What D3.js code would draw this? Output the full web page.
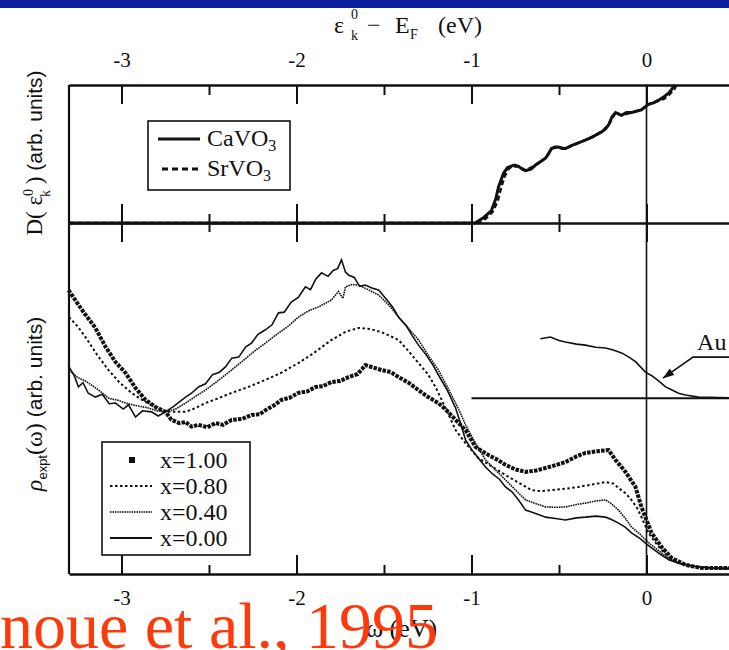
<!DOCTYPE html>
<html>
<head>
<meta charset="utf-8">
<script src="https://cdn.jsdelivr.net/npm/d3@7"></script>
<style>
  body { margin: 0; background: #fff; }
  svg { display: block; }
</style>
</head>
<body>
<svg id="canvas" width="729" height="650"></svg>
<script>
// tick values (eV)
const ticksMajor = [-3, -2, -1, 0];
const ticksMinor = [-2.5, -1.5, -0.5];

// upper panel: D(eps_k^0), [eps, D]
const caVO3 = [[-3.3,0],[-0.98,0],[-0.93,0.04],[-0.886,0.09],[-0.86,0.18],[-0.846,0.26],[-0.817,0.36],[-0.795,0.40],[-0.777,0.41],[-0.755,0.42],[-0.731,0.41],[-0.71,0.39],[-0.691,0.38],[-0.66,0.39],[-0.634,0.42],[-0.6,0.45],[-0.577,0.47],[-0.56,0.50],[-0.543,0.54],[-0.523,0.55],[-0.503,0.55],[-0.483,0.54],[-0.463,0.54],[-0.43,0.56],[-0.389,0.58],[-0.35,0.60],[-0.314,0.62],[-0.285,0.64],[-0.257,0.66],[-0.235,0.68],[-0.217,0.71],[-0.197,0.77],[-0.177,0.80],[-0.16,0.79],[-0.143,0.78],[-0.115,0.80],[-0.086,0.80],[-0.06,0.81],[-0.029,0.82],[-0.01,0.84],[0.011,0.86],[0.04,0.87],[0.069,0.89],[0.1,0.915],[0.126,0.94],[0.145,0.97],[0.16,1.0]];
const srVO3 = [[-3.3,0],[-0.96,0],[-0.92,0.03],[-0.88,0.08],[-0.85,0.16],[-0.83,0.26],[-0.81,0.34],[-0.79,0.39],[-0.77,0.41],[-0.731,0.41],[-0.691,0.38],[-0.634,0.42],[-0.577,0.47],[-0.543,0.54],[-0.503,0.55],[-0.463,0.54],[-0.389,0.58],[-0.314,0.62],[-0.257,0.66],[-0.217,0.71],[-0.177,0.80],[-0.143,0.78],[-0.086,0.80],[-0.029,0.82],[0.011,0.86],[0.069,0.885],[0.1,0.90],[0.13,0.93],[0.16,0.97],[0.17,1.0]];

// lower panel: rho_expt(omega), [omega, rho]
const x000 = [[-3.30,59.0],[-3.27,56.5],[-3.246,53.3],[-3.22,54.5],[-3.19,51.5],[-3.149,50.4],[-3.11,51.2],[-3.07,48.5],[-3.034,48.7],[-2.99,47.0],[-2.96,48.2],[-2.92,44.7],[-2.88,46.5],[-2.829,46.2],[-2.79,45.0],[-2.749,46.2],[-2.70,47.8],[-2.634,50.4],[-2.60,51.5],[-2.56,53.3],[-2.52,54.2],[-2.48,56.8],[-2.44,57.5],[-2.406,59.0],[-2.37,61.5],[-2.33,61.8],[-2.29,64.7],[-2.257,65.8],[-2.22,68.3],[-2.18,69.5],[-2.14,71.0],[-2.103,74.4],[-2.07,74.6],[-2.03,77.5],[-1.99,78.8],[-1.949,81.8],[-1.92,81.0],[-1.89,84.0],[-1.857,85.8],[-1.82,84.8],[-1.79,86.5],[-1.765,87.0],[-1.743,89.5],[-1.72,86.0],[-1.703,85.2],[-1.67,84.5],[-1.64,82.0],[-1.606,82.3],[-1.57,81.5],[-1.531,80.9],[-1.49,78.5],[-1.45,76.0],[-1.417,73.2],[-1.37,70.5],[-1.34,68.0],[-1.303,65.2],[-1.26,62.5],[-1.22,59.5],[-1.189,56.7],[-1.14,52.5],[-1.091,47.3],[-1.06,42.5],[-1.034,38.2],[-1.0,35.5],[-0.96,33.0],[-0.92,30.5],[-0.88,28.5],[-0.84,27.0],[-0.806,24.8],[-0.77,23.5],[-0.73,21.0],[-0.691,18.2],[-0.65,17.5],[-0.61,16.8],[-0.577,16.2],[-0.52,15.8],[-0.463,15.4],[-0.40,16.0],[-0.349,16.2],[-0.29,16.5],[-0.234,16.2],[-0.20,15.5],[-0.16,14.5],[-0.12,13.3],[-0.086,11.7],[-0.04,10.2],[-0.006,8.8],[0.04,7.0],[0.086,5.4],[0.13,4.0],[0.183,3.1],[0.27,2.2],[0.37,1.7],[0.5,1.6]];
const x040 = [[-3.30,58.1],[-3.25,56.0],[-3.20,54.8],[-3.131,52.4],[-3.07,50.0],[-3.02,49.5],[-2.977,48.7],[-2.92,48.0],[-2.846,47.3],[-2.80,46.5],[-2.749,46.2],[-2.69,47.0],[-2.634,48.7],[-2.58,50.5],[-2.52,52.4],[-2.45,55.0],[-2.371,58.1],[-2.30,61.0],[-2.24,63.5],[-2.177,65.8],[-2.12,68.0],[-2.05,70.5],[-1.989,73.2],[-1.93,75.0],[-1.874,76.1],[-1.84,77.0],[-1.80,78.1],[-1.76,80.5],[-1.735,78.5],[-1.72,81.8],[-1.68,82.5],[-1.646,82.3],[-1.59,81.0],[-1.531,79.5],[-1.47,76.5],[-1.417,73.2],[-1.36,70.0],[-1.303,66.7],[-1.25,62.5],[-1.189,58.1],[-1.14,53.5],[-1.091,48.7],[-1.06,45.5],[-1.034,42.5],[-0.98,37.5],[-0.92,32.5],[-0.86,29.5],[-0.806,26.8],[-0.75,24.0],[-0.691,21.1],[-0.63,20.0],[-0.577,19.1],[-0.52,19.0],[-0.463,19.1],[-0.40,19.8],[-0.349,20.2],[-0.29,20.8],[-0.234,21.1],[-0.20,20.0],[-0.16,18.2],[-0.12,15.8],[-0.086,13.4],[-0.04,11.5],[-0.006,9.7],[0.04,7.8],[0.086,6.0],[0.13,4.3],[0.183,3.1],[0.27,2.2],[0.371,1.7],[0.5,1.6]];
const x080 = [[-3.30,73.2],[-3.25,70.5],[-3.206,67.5],[-3.14,62.5],[-3.074,58.1],[-3.01,54.5],[-2.943,51.6],[-2.88,49.5],[-2.829,48.1],[-2.749,46.2],[-2.634,46.2],[-2.58,47.2],[-2.52,48.7],[-2.45,50.0],[-2.371,51.6],[-2.28,53.2],[-2.177,55.3],[-2.08,57.5],[-1.989,60.1],[-1.90,63.0],[-1.80,66.7],[-1.72,69.0],[-1.646,70.1],[-1.58,69.8],[-1.514,68.9],[-1.417,66.7],[-1.36,63.5],[-1.303,60.1],[-1.25,57.0],[-1.206,53.3],[-1.15,47.5],[-1.091,41.0],[-1.03,37.0],[-0.96,33.0],[-0.88,30.5],[-0.806,28.2],[-0.73,26.0],[-0.657,23.9],[-0.60,23.6],[-0.543,23.9],[-0.46,24.3],[-0.389,24.8],[-0.31,25.5],[-0.234,26.2],[-0.19,25.8],[-0.16,24.5],[-0.12,23.0],[-0.086,21.1],[-0.05,18.5],[-0.029,16.2],[0.011,11.7],[0.05,9.0],[0.086,6.8],[0.13,4.8],[0.183,3.1],[0.27,2.0],[0.371,1.7],[0.5,1.4]];
const x100 = [[-3.303,80.9],[-3.257,77.5],[-3.217,74.6],[-3.149,70.1],[-3.091,64.7],[-3.034,60.4],[-2.977,57.3],[-2.920,53.0],[-2.863,49.6],[-2.806,47.6],[-2.749,46.2],[-2.714,43.9],[-2.67,43.0],[-2.634,43.3],[-2.60,42.0],[-2.560,42.5],[-2.51,41.8],[-2.463,43.0],[-2.42,42.5],[-2.371,43.9],[-2.31,44.2],[-2.257,45.3],[-2.21,45.5],[-2.177,46.7],[-2.13,48.0],[-2.086,49.6],[-2.04,50.2],[-1.989,51.6],[-1.94,52.0],[-1.891,53.3],[-1.85,53.5],[-1.800,54.7],[-1.75,55.0],[-1.703,56.1],[-1.65,57.0],[-1.606,59.5],[-1.56,58.8],[-1.514,58.1],[-1.46,57.5],[-1.417,56.1],[-1.36,54.5],[-1.303,52.4],[-1.25,50.5],[-1.189,48.7],[-1.14,46.5],[-1.091,43.9],[-1.034,41.0],[-0.977,36.2],[-0.94,35.0],[-0.903,33.9],[-0.85,32.5],[-0.806,31.1],[-0.75,29.8],[-0.691,29.1],[-0.63,29.5],[-0.577,30.2],[-0.52,31.0],[-0.463,31.9],[-0.40,33.5],[-0.349,34.5],[-0.28,35.0],[-0.217,35.3],[-0.177,32.5],[-0.120,29.1],[-0.063,24.8],[-0.029,19.1],[0,15.4],[0.029,11.7],[0.086,7.7],[0.143,4.6],[0.223,2.6],[0.314,1.7],[0.5,1.7]];
const au = [[-0.606,67.0],[-0.549,67.5],[-0.50,66.5],[-0.463,66.1],[-0.40,65.5],[-0.349,65.2],[-0.29,64.6],[-0.234,64.4],[-0.19,63.8],[-0.143,63.0],[-0.1,61.8],[-0.063,60.5],[-0.006,57.5],[0.03,56.5],[0.069,55.0],[0.109,53.3],[0.143,52.5],[0.183,51.5],[0.223,51.0],[0.297,50.4],[0.5,50.2]];
const auBase = [[-1, 50.1], [0.5, 50.1]];

const legendTop = ["CaVO", "SrVO"];
const legendBottom = ["x=1.00", "x=0.80", "x=0.40", "x=0.00"];

const serif = '"Liberation Serif", "Times New Roman", serif';
const sans = '"Liberation Sans", Arial, sans-serif';
const ink = "#111";

const svg = d3.select("svg#canvas");

const x = d3.scaleLinear().domain([-3.3, 0.5]).range([69, 734]);
const yTop = d3.scaleLinear().domain([0, 1]).range([223, 85]);
const yBot = d3.scaleLinear().domain([0, 100]).range([574, 223]);

// small helper so every text gets its font set inline
const label = (sel, size, fam = serif) => sel.append("text")
    .style("font-family", fam).style("font-size", size + "px").style("fill", ink);

// blue banner strip
svg.append("rect").attr("x", 0).attr("y", 0).attr("width", 729).attr("height", 8).attr("fill", "#0b1f9e");

const isMajor = d => ticksMajor.includes(d);
const allTicks = ticksMajor.concat(ticksMinor);

// top axis
const gTop = svg.append("g")
    .attr("transform", `translate(0,${yTop(1)})`)
    .call(d3.axisTop(x).tickValues(allTicks).tickSizeOuter(0)
      .tickFormat(d => isMajor(d) ? String(d) : ""));
gTop.selectAll(".tick line").attr("y2", d => isMajor(d) ? 19 : 10);
gTop.selectAll(".tick text").attr("y", -18).attr("dy", "0");

// middle line shared by both panels
const gMid = svg.append("g")
    .attr("transform", `translate(0,${yTop(0)})`)
    .call(d3.axisBottom(x).tickValues(allTicks).tickSizeOuter(0).tickFormat(""));
gMid.selectAll(".tick line")
    .attr("y1", d => isMajor(d) ? -19 : -9)
    .attr("y2", d => isMajor(d) ? 19 : 9);

// bottom axis
const gBot = svg.append("g")
    .attr("transform", `translate(0,${yBot(0)})`)
    .call(d3.axisBottom(x).tickValues(allTicks).tickSizeOuter(0)
      .tickFormat(d => isMajor(d) ? String(d) : ""));
gBot.selectAll(".tick line").attr("y2", d => isMajor(d) ? -19 : -9);
gBot.selectAll(".tick text").attr("y", 31).attr("dy", "0");

svg.selectAll(".domain").attr("stroke", ink).attr("stroke-width", 2.5);
svg.selectAll(".tick line").attr("stroke", ink).attr("stroke-width", 2);
svg.selectAll(".tick text")
    .style("font-family", serif).style("font-size", "21px").style("fill", ink);

// left frame
svg.append("line")
    .attr("x1", x(-3.3)).attr("x2", x(-3.3))
    .attr("y1", yTop(1)).attr("y2", yBot(0))
    .attr("stroke", ink).attr("stroke-width", 2.2);

// E_F vertical line
svg.append("line")
    .attr("x1", x(0)).attr("x2", x(0))
    .attr("y1", yTop(1)).attr("y2", yBot(0))
    .attr("stroke", ink).attr("stroke-width", 1.6);

// upper panel curves
const lineTop = d3.line().x(d => x(d[0])).y(d => yTop(d[1]));
svg.append("path").datum(srVO3).attr("d", lineTop)
    .attr("fill", "none").attr("stroke", ink).attr("stroke-width", 2.5)
    .attr("stroke-dasharray", "5,3");
svg.append("path").datum(caVO3).attr("d", lineTop)
    .attr("fill", "none").attr("stroke", ink).attr("stroke-width", 3);

// lower panel curves
const lineBot = d3.line().x(d => x(d[0])).y(d => yBot(d[1]));
const styles = [
  {data: x000, w: 1.6, dash: null},
  {data: x040, w: 1.6, dash: "1.6,0.8"},
  {data: x080, w: 2, dash: "2.5,2.5"},
  {data: x100, w: 4, dash: "3.5,1.2"}
];
styles.forEach(s => {
  svg.append("path").datum(s.data).attr("d", lineBot)
      .attr("fill", "none").attr("stroke", ink)
      .attr("stroke-width", s.w)
      .attr("stroke-dasharray", s.dash);
});

// Au reference
svg.append("path").datum(auBase).attr("d", lineBot)
    .attr("fill", "none").attr("stroke", ink).attr("stroke-width", 2);
svg.append("path").datum(au).attr("d", lineBot)
    .attr("fill", "none").attr("stroke", ink).attr("stroke-width", 1.6);

// Au label and arrow
const auTip = [0.094, 55.8], auKnee = [0.266, 61.8], auEnd = [0.5, 61.8];
svg.append("path")
    .attr("d", d3.line()([[x(auEnd[0]), yBot(auEnd[1])], [x(auKnee[0]), yBot(auKnee[1])], [x(auTip[0]), yBot(auTip[1])]]))
    .attr("fill", "none").attr("stroke", ink).attr("stroke-width", 1.6);
{
  const tx = x(auTip[0]), ty = yBot(auTip[1]);
  const ang = Math.atan2(yBot(auKnee[1]) - ty, x(auKnee[0]) - tx);
  const L = 11, W = 4;
  const bx = tx + L * Math.cos(ang), by = ty + L * Math.sin(ang);
  svg.append("polygon")
      .attr("points", [[tx, ty], [bx - W * Math.sin(ang), by + W * Math.cos(ang)], [bx + W * Math.sin(ang), by - W * Math.cos(ang)]].join(" "))
      .attr("fill", ink);
}
label(svg, 24).attr("x", x(0.289)).attr("y", yBot(63.8)).text("Au");

// upper legend
const lgT = svg.append("g").attr("transform", "translate(148,121)");
lgT.append("rect").attr("width", 142).attr("height", 69)
    .attr("fill", "#fff").attr("stroke", ink).attr("stroke-width", 1.6);
legendTop.forEach((name, i) => {
  const yy = 18 + i * 30;
  lgT.append("line").attr("x1", i ? 14 : 10).attr("x2", 52).attr("y1", yy).attr("y2", yy)
      .attr("stroke", ink).attr("stroke-width", 3)
      .attr("stroke-dasharray", i ? "6,4" : null);
  const t = label(lgT, 24).attr("x", 59).attr("y", yy + 7);
  t.append("tspan").text(name);
  t.append("tspan").attr("dy", 5).style("font-size", "16px").text("3");
});

// lower legend
const lgB = svg.append("g").attr("transform", "translate(102,442)");
lgB.append("rect").attr("width", 148).attr("height", 113)
    .attr("fill", "#fff").attr("stroke", ink).attr("stroke-width", 1.6);
const lgStyles = [null, {w: 2, dash: "2.5,2.5"}, {w: 1.6, dash: "1.6,0.8"}, {w: 2, dash: null}];
legendBottom.forEach((name, i) => {
  const yy = 18 + i * 26;
  if (i === 0) {
    lgB.append("rect").attr("x", 27).attr("y", yy - 3).attr("width", 6).attr("height", 6).attr("fill", ink);
  } else {
    lgB.append("line").attr("x1", 8).attr("x2", 50).attr("y1", yy).attr("y2", yy)
        .attr("stroke", ink).attr("stroke-width", lgStyles[i].w)
        .attr("stroke-dasharray", lgStyles[i].dash);
  }
  label(lgB, 24).attr("x", 58).attr("y", yy + 8).text(name);
});

// top axis title
label(svg, 24).attr("x", 334).attr("y", 33).text("ε");
label(svg, 14).attr("x", 351).attr("y", 19).text("0");
label(svg, 14).attr("x", 351).attr("y", 40).text("k");
label(svg, 24).attr("x", 367).attr("y", 33).text("−");
label(svg, 24).attr("x", 395).attr("y", 33).text("E");
label(svg, 14).attr("x", 410).attr("y", 39).text("F");
label(svg, 24).attr("x", 438).attr("y", 33).text("(eV)");

// y labels
const yl1 = label(svg, 23).attr("transform", "translate(42,153) rotate(-90)")
    .attr("text-anchor", "middle");
yl1.append("tspan").text("D( ε");
yl1.append("tspan").attr("dy", -9).style("font-size", "14px").text("0");
yl1.append("tspan").attr("dx", -8).attr("dy", 17).style("font-size", "14px").text("k");
yl1.append("tspan").attr("dy", -8).text(" )  ");
yl1.append("tspan").style("font-family", sans).style("font-size", "21px").text("(arb. units)");

const yl2 = label(svg, 24).attr("transform", "translate(42,404) rotate(-90)")
    .attr("text-anchor", "middle");
yl2.append("tspan").style("font-style", "italic").text("ρ");
yl2.append("tspan").style("font-family", sans).attr("dy", 5).style("font-size", "13px").text("expt");
yl2.append("tspan").attr("dy", -5).text("(ω) ");
yl2.append("tspan").style("font-family", sans).style("font-size", "21px").text("(arb. units)");

// bottom axis title
label(svg, 26).attr("x", 366).attr("y", 637).text("ω (eV)");

// citation overlay
label(svg, 66).attr("x", 0).attr("y", 648)
    .style("fill", "#ff3a0a").text("noue et al., 1995");
</script>
</body>
</html>
